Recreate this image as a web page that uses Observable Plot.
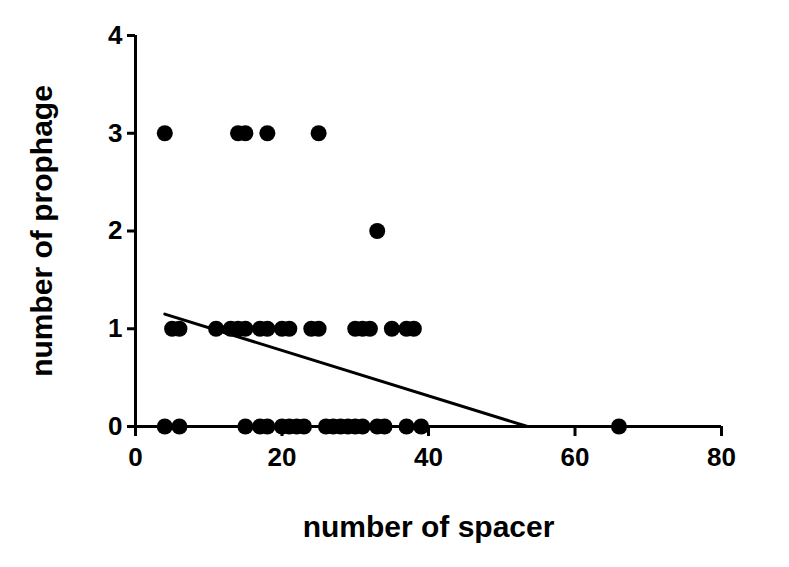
<!DOCTYPE html>
<html><head><meta charset="utf-8">
<script src="https://cdn.jsdelivr.net/npm/d3@7"></script>
<script src="https://cdn.jsdelivr.net/npm/@observablehq/plot@0.6"></script>
<style>
body{margin:0;background:#fff;}
</style></head><body>
<div id="chart"></div>
<script>
// number of spacer (x) for each prophage-count level
const spacers0 = [4, 6, 15, 17, 18, 20, 21, 22, 23, 26, 27, 28, 29, 30, 31, 33, 34, 37, 39, 66];
const spacers1 = [5, 6, 11, 13, 14, 15, 17, 18, 20, 21, 24, 25, 30, 31, 32, 35, 37, 38];
const spacers2 = [33];
const spacers3 = [4, 14, 15, 18, 25];
const xTicks = [0, 20, 40, 60, 80];
const yTicks = [0, 1, 2, 3, 4];
// fitted line
const fitIntercept = 1.243;
const fitSlope = -0.02323;
const fitXStart = 4;

const points = [
  ...spacers0.map(x => ({x, y: 0})),
  ...spacers1.map(x => ({x, y: 1})),
  ...spacers2.map(x => ({x, y: 2})),
  ...spacers3.map(x => ({x, y: 3}))
];
const fitXEnd = -fitIntercept / fitSlope;
const fitLine = [
  {x: fitXStart, y: fitIntercept + fitSlope * fitXStart},
  {x: fitXEnd, y: 0}
];
const font = "'Liberation Sans', Arial, sans-serif";

const chart = Plot.plot({
  width: 789,
  height: 567,
  marginLeft: 135,
  marginRight: 68,
  marginTop: 35,
  marginBottom: 141,
  style: {fontFamily: font, fontWeight: "bold", color: "black", background: "white"},
  x: {domain: [0, 80]},
  y: {domain: [0, 4]},
  marks: [
    Plot.ruleY([0], {stroke: "black", strokeWidth: 3}),
    Plot.ruleX([0], {stroke: "black", strokeWidth: 3}),
    Plot.axisX({ticks: xTicks, tickSize: 10, tickFormat: () => "", strokeWidth: 3, label: null}),
    Plot.axisY({ticks: yTicks, tickSize: 8, tickFormat: () => "", strokeWidth: 3, label: null}),
    Plot.text(xTicks, {x: d => d, frameAnchor: "bottom", dy: 31, lineAnchor: "middle", textAnchor: "middle", text: d => String(d), fontSize: 26, fontWeight: "bold", fontFamily: font, fill: "black"}),
    Plot.text(yTicks, {y: d => d, frameAnchor: "left", dx: -13, textAnchor: "end", lineAnchor: "middle", text: d => String(d), fontSize: 26, fontWeight: "bold", fontFamily: font, fill: "black"}),
    Plot.line(fitLine, {x: "x", y: "y", stroke: "black", strokeWidth: 3}),
    Plot.dot(points, {x: "x", y: "y", r: 8, fill: "black", stroke: "none"}),
    Plot.text(["number of spacer"], {frameAnchor: "bottom", dy: 110, textAnchor: "middle", fontSize: 30, fontWeight: "bold", fontFamily: font, fill: "black"}),
    Plot.text(["number of prophage"], {frameAnchor: "left", dx: -93, textAnchor: "middle", rotate: -90, fontSize: 30, fontWeight: "bold", fontFamily: font, fill: "black"})
  ]
});
document.getElementById("chart").appendChild(chart);
</script>
</body></html>
